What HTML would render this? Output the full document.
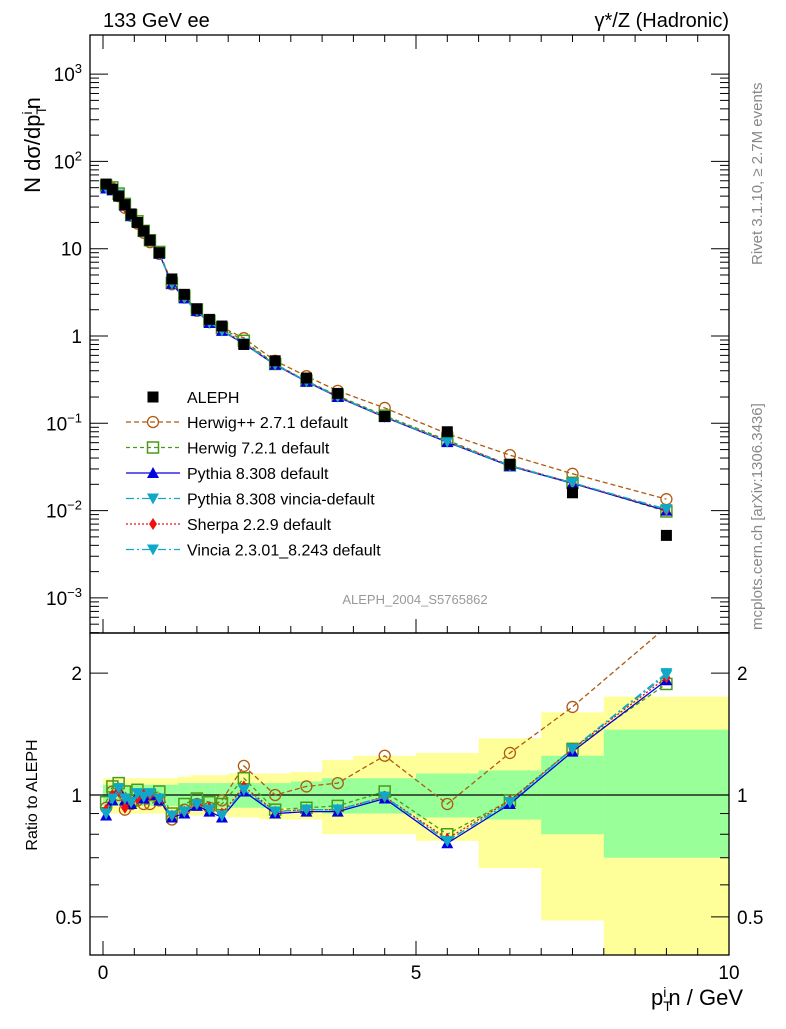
<!DOCTYPE html>
<html><head><meta charset="utf-8"><style>
body{margin:0;background:#fff;}
svg{font-family:"Liberation Sans",sans-serif;}
</style></head><body>
<svg id="c" width="786" height="1024"></svg>
<script>
const pts=[0.05,0.15,0.25,0.35,0.45,0.55,0.65,0.75,0.9,1.1,1.3,1.5,1.7,1.9,2.25,2.75,3.25,3.75,4.5,5.5,6.5,7.5,9];
const aleph=[55,48,40,32,25,20,16,12.5,9,4.5,3.0,2.05,1.55,1.3,0.8,0.52,0.33,0.22,0.12,0.08,0.034,0.016,0.0052];
const rHerwigpp=[0.93,1.02,1.0,0.92,0.95,0.97,0.95,0.95,0.97,0.87,0.92,0.95,0.93,0.97,1.18,1.0,1.05,1.07,1.25,0.95,1.27,1.65,2.6];
const rHerwig7=[0.96,1.05,1.07,1.02,0.97,1.03,1.0,1.0,1.02,0.9,0.95,0.98,0.96,0.95,1.1,0.92,0.93,0.94,1.02,0.8,0.97,1.3,1.88];
const rPythia=[0.89,0.97,1.03,0.97,0.95,1.0,0.98,1.0,0.97,0.88,0.9,0.94,0.91,0.88,1.02,0.9,0.91,0.91,0.98,0.76,0.95,1.28,1.92];
const rPythiaV=[0.9,0.98,1.04,0.98,0.96,1.01,0.99,1.01,0.98,0.89,0.91,0.95,0.92,0.89,1.03,0.91,0.92,0.92,0.99,0.77,0.96,1.3,2.0];
const rSherpa=[0.92,1.0,1.02,0.93,0.96,0.98,1.0,1.0,0.98,0.89,0.91,0.95,0.93,0.9,1.05,0.91,0.92,0.92,0.99,0.78,0.97,1.3,1.95];
const rVincia=[0.9,0.98,1.04,0.98,0.96,1.01,0.99,1.01,0.98,0.89,0.91,0.95,0.92,0.89,1.03,0.91,0.92,0.92,0.99,0.77,0.96,1.3,1.98];
const binEdges=[0,0.1,0.2,0.3,0.4,0.5,0.6,0.7,0.8,1.0,1.2,1.4,1.6,1.8,2.0,2.5,3.0,3.5,4.0,5.0,6.0,7.0,8.0,10];
const yelLo=[0.9,0.9,0.9,0.9,0.9,0.9,0.9,0.9,0.9,0.9,0.89,0.89,0.89,0.89,0.88,0.87,0.87,0.8,0.8,0.77,0.66,0.49,0.4];
const yelHi=[1.1,1.1,1.1,1.1,1.1,1.1,1.1,1.1,1.1,1.1,1.11,1.12,1.12,1.12,1.13,1.13,1.14,1.22,1.25,1.27,1.38,1.6,1.75];
const grnLo=[0.94,0.94,0.94,0.94,0.94,0.94,0.94,0.94,0.94,0.94,0.93,0.93,0.93,0.93,0.93,0.93,0.92,0.9,0.9,0.88,0.87,0.8,0.7];
const grnHi=[1.06,1.06,1.06,1.06,1.06,1.06,1.06,1.06,1.06,1.06,1.07,1.07,1.07,1.07,1.07,1.07,1.08,1.1,1.1,1.13,1.15,1.25,1.45];
const yTicksTop=[["10","−3",-3],["10","−2",-2],["10","−1",-1],["1","",0],["10","",1],["10","2",2],["10","3",3]];
const xTicks=[0,5,10];
const rTicks=[0.5,1,2];

const S=document.getElementById('c');const NS='http://www.w3.org/2000/svg';
function el(t,a,p){const e=document.createElementNS(NS,t);for(const k in a)e.setAttribute(k,a[k]);(p||S).appendChild(e);return e;}
const L=90,R=729;
const X=v=>103+v*62.6;
const Y=v=>336-Math.log10(v)*87.3;
const RY=v=>795-Math.log10(v)*405;
const series=[
 {name:"Herwig++ 2.7.1 default",r:rHerwigpp,c:"#b05a10",dash:"5,3",m:"circ"},
 {name:"Herwig 7.2.1 default",r:rHerwig7,c:"#4a9a1a",dash:"4,3",m:"osq"},
 {name:"Pythia 8.308 default",r:rPythia,c:"#0000e0",dash:"",m:"tup"},
 {name:"Pythia 8.308 vincia-default",r:rPythiaV,c:"#10a8c8",dash:"8,3,2,3",m:"tdn"},
 {name:"Sherpa 2.2.9 default",r:rSherpa,c:"#f01010",dash:"2,2",m:"dia"},
 {name:"Vincia 2.3.01_8.243 default",r:rVincia,c:"#10a8c8",dash:"8,3,2,3",m:"tdn"}];
function marker(g,m,x,y,c){
 if(m=="circ")el('circle',{cx:x,cy:y,r:5.5,fill:'none',stroke:c,'stroke-width':1.3},g);
 else if(m=="osq")el('rect',{x:x-5.5,y:y-5.5,width:11,height:11,fill:'none',stroke:c,'stroke-width':1.5},g);
 else if(m=="tup")el('polygon',{points:`${x},${y-6} ${x-6},${y+5} ${x+6},${y+5}`,fill:c},g);
 else if(m=="tdn")el('polygon',{points:`${x},${y+6} ${x-6},${y-5} ${x+6},${y-5}`,fill:c},g);
 else if(m=="dia")el('polygon',{points:`${x},${y-6} ${x-4},${y} ${x},${y+6} ${x+4},${y}`,fill:c},g);
 else if(m=="sq")el('rect',{x:x-5.5,y:y-5.5,width:11,height:11,fill:c},g);
}
const cl=el('clipPath',{id:'rc'});el('rect',{x:L,y:633,width:R-L,height:322},cl);
const bands=el('g',{'clip-path':'url(#rc)'});


for(let i=0;i<yelLo.length;i++){
 const x0=X(binEdges[i]),x1=X(binEdges[i+1]);
 el('rect',{x:x0,y:RY(yelHi[i]),width:x1-x0+0.5,height:RY(yelLo[i])-RY(yelHi[i]),fill:'#ffff99'},bands);
 el('rect',{x:x0,y:RY(grnHi[i]),width:x1-x0+0.5,height:RY(grnLo[i])-RY(grnHi[i]),fill:'#99ff99'},bands);
}
el('line',{x1:L,x2:R,y1:RY(1),y2:RY(1),stroke:'#000','stroke-width':1.3});
const ct=el('clipPath',{id:'tc'});el('rect',{x:L,y:35,width:R-L,height:598},ct);
const topG=el('g',{'clip-path':'url(#tc)'});


const rat=el('g',{'clip-path':'url(#rc)'});


series.forEach(s=>{
 const key=s.name.split(' ')[0].toLowerCase().replace(/\+/g,'p');
 const g=el('g',{},topG);
 
 
 const gr=el('g',{},rat);
 
 
 el('polyline',{points:pts.map((p,i)=>X(p)+','+Y(aleph[i]*s.r[i])).join(' '),fill:'none',stroke:s.c,'stroke-width':1.3,'stroke-dasharray':s.dash},g);
 el('polyline',{points:pts.map((p,i)=>X(p)+','+RY(s.r[i])).join(' '),fill:'none',stroke:s.c,'stroke-width':1.3,'stroke-dasharray':s.dash},gr);
 pts.forEach((p,i)=>{marker(g,s.m,X(p),Y(aleph[i]*s.r[i]),s.c);marker(gr,s.m,X(p),RY(s.r[i]),s.c);});
});
const dg=el('g',{},topG);


pts.forEach((p,i)=>marker(dg,'sq',X(p),Y(aleph[i]),'#000'));
el('rect',{x:L,y:35,width:R-L,height:598,fill:'none',stroke:'#000','stroke-width':1.3});
el('rect',{x:L,y:633,width:R-L,height:322,fill:'none',stroke:'#000','stroke-width':1.3});
yTicksTop.forEach(tk=>{
 const y=Y(Math.pow(10,tk[2]));
 el('line',{x1:L,x2:L+18,y1:y,y2:y,stroke:'#000'});el('line',{x1:R,x2:R-18,y1:y,y2:y,stroke:'#000'});
 for(let k=2;k<10&&tk[2]<3;k++){const yy=Y(k*Math.pow(10,tk[2]));el('line',{x1:L,x2:L+9,y1:yy,y2:yy,stroke:'#000'});el('line',{x1:R,x2:R-9,y1:yy,y2:yy,stroke:'#000'});}
 const tx=el('text',{x:82,y:y+7,'font-size':19,'text-anchor':'end'});tx.textContent=tk[0];
 if(tk[1]){const sp=el('tspan',{dy:-8,'font-size':13},tx);sp.textContent=tk[1];}
});
for(let k=2;k<10;k++){const yy=Y(k*1e-4);if(yy<633){el('line',{x1:L,x2:L+9,y1:yy,y2:yy,stroke:'#000'});el('line',{x1:R,x2:R-9,y1:yy,y2:yy,stroke:'#000'});}}
for(let v=0;v<=10;v+=0.5){const big=v%5==0;const x=X(v);
 el('line',{x1:x,x2:x,y1:633,y2:633-(big?14:7),stroke:'#000'});
 el('line',{x1:x,x2:x,y1:955,y2:955-(big?14:7),stroke:'#000'});
 el('line',{x1:x,x2:x,y1:35,y2:big?49:42,stroke:'#000'});}
xTicks.forEach(v=>{const tx=el('text',{x:X(v),y:979,'font-size':19,'text-anchor':'middle'});tx.textContent=v;});
[0.5,0.6,0.7,0.8,0.9,1,2].forEach(v=>{const y=RY(v);const big=rTicks.includes(v);
 el('line',{x1:L,x2:L+(big?18:9),y1:y,y2:y,stroke:'#000'});el('line',{x1:R,x2:R-(big?18:9),y1:y,y2:y,stroke:'#000'});});
rTicks.forEach(v=>{const y=RY(v)+7;
 let tx=el('text',{x:82,y:y,'font-size':19,'text-anchor':'end'});tx.textContent=v;
 tx=el('text',{x:737,y:y,'font-size':19});tx.textContent=v;});
const lg=el('g',{});


const lt=el('text',{x:187,y:403,'font-size':16},lg);lt.textContent='ALEPH';marker(lg,'sq',153,397,'#000');
series.forEach((s,i)=>{const y=422+i*25.5;
 el('line',{x1:126,x2:180,y1:y,y2:y,stroke:s.c,'stroke-width':1.3,'stroke-dasharray':s.dash},lg);
 marker(lg,s.m,153,y,s.c);
 const tt=el('text',{x:187,y:y+6,'font-size':16},lg);tt.textContent=s.name;});
</script>
<svg style="position:absolute;left:0;top:0" width="786" height="1024">
<text x="103" y="27" font-size="20" font-family="Liberation Sans">133 GeV ee</text>
<text x="729" y="27" font-size="20" font-family="Liberation Sans" text-anchor="end">γ*/Z (Hadronic)</text>
<text transform="translate(40,145) rotate(-90)" font-size="22" font-family="Liberation Sans" text-anchor="middle">N dσ/dp<tspan font-size="14" dy="6">T</tspan><tspan font-size="14" dy="-14" dx="-8">i</tspan><tspan dy="8" dx="2">n</tspan></text>
<text transform="translate(37,795) rotate(-90)" font-size="16" font-family="Liberation Sans" text-anchor="middle">Ratio to ALEPH</text>
<text x="743" y="1005" font-size="22" font-family="Liberation Sans" text-anchor="end">p<tspan font-size="14" dy="6">T</tspan><tspan font-size="14" dy="-14" dx="-8">i</tspan><tspan dy="8" dx="2">n / GeV</tspan></text>
<text x="415" y="604" font-size="13" fill="#999" font-family="Liberation Sans" text-anchor="middle">ALEPH_2004_S5765862</text>
<text transform="translate(762,265) rotate(-90)" font-size="15" fill="#888" font-family="Liberation Sans">Rivet 3.1.10, ≥ 2.7M events</text>
<text transform="translate(762,630) rotate(-90)" font-size="15" fill="#888" font-family="Liberation Sans">mcplots.cern.ch [arXiv:1306.3436]</text>
</svg>
</body></html>
